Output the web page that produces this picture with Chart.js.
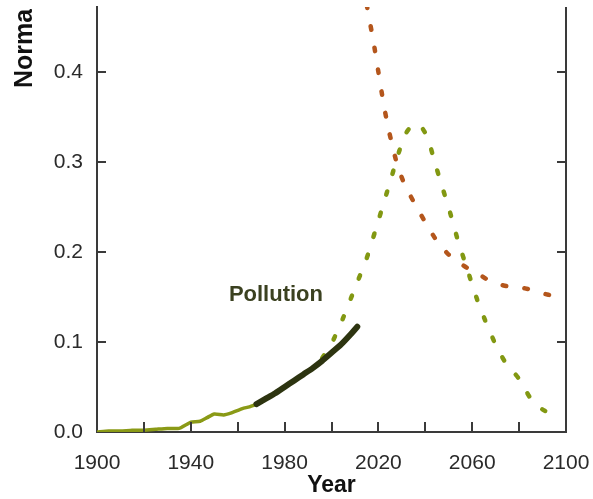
<!DOCTYPE html>
<html>
<head>
<meta charset="utf-8">
<script src="https://cdn.jsdelivr.net/npm/chart.js@4/dist/chart.umd.min.js"></script>
<style>
  html, body { margin: 0; padding: 0; background: #fff; }
  #wrap { width: 593px; height: 499px; position: relative; }
</style>
</head>
<body>
<div id="wrap"><canvas id="c" width="593" height="499"></canvas></div>
<script>
// Historical pollution, early period
const histYears = [1900, 1905, 1910, 1915, 1920, 1925, 1930, 1935, 1938, 1940, 1944, 1947, 1950, 1954, 1957, 1962, 1965, 1968];
const histVals  = [0.000, 0.001, 0.001, 0.002, 0.002, 0.003, 0.004, 0.004, 0.008, 0.011, 0.012, 0.016, 0.020, 0.019, 0.021, 0.026, 0.028, 0.031];

// Historical pollution, recent period (highlighted)
const recentYears = [1968, 1972, 1976, 1980, 1984, 1988, 1992, 1996, 2000, 2004, 2008, 2011];
const recentVals  = [0.031, 0.037, 0.043, 0.050, 0.057, 0.064, 0.071, 0.079, 0.088, 0.097, 0.108, 0.117];

// Projected pollution, rise and fall scenario
const projYears = [1996, 2000, 2005, 2010, 2015, 2020, 2025, 2029, 2032, 2035, 2038, 2041, 2044, 2047, 2050, 2054, 2058, 2062, 2066, 2070, 2074, 2080, 2085, 2090, 2095];
const projVals  = [0.082, 0.098, 0.127, 0.160, 0.193, 0.235, 0.278, 0.313, 0.333, 0.342, 0.340, 0.327, 0.300, 0.274, 0.249, 0.212, 0.180, 0.148, 0.121, 0.097, 0.078, 0.059, 0.037, 0.025, 0.019];

// Second projected series, declining
const declYears = [2015, 2018, 2020, 2022, 2024, 2026, 2028, 2031, 2035, 2040, 2045, 2050, 2054, 2058, 2062, 2066, 2070, 2075, 2080, 2085, 2090, 2095, 2100];
const declVals  = [0.475, 0.432, 0.400, 0.368, 0.340, 0.318, 0.297, 0.276, 0.256, 0.233, 0.212, 0.197, 0.189, 0.182, 0.177, 0.170, 0.165, 0.162, 0.161, 0.158, 0.154, 0.151, 0.148];

// Axis ticks
const xMinorTicks = [1900, 1920, 1940, 1960, 1980, 2000, 2020, 2040, 2060, 2080, 2100];
const xTickLabels = [1900, 1940, 1980, 2020, 2060, 2100];
const yTicks = [0.0, 0.1, 0.2, 0.3, 0.4];

const pts = (xs, ys) => xs.map((x, i) => ({ x: x, y: ys[i] }));

const AXIS_COLOR = '#3a3a3a';
const FONT = '"Liberation Sans", Arial, sans-serif';

// Keep the plot frame at a fixed size: no extra room for edge labels
function noScalePadding(scale) {
  scale.paddingTop = 0;
  scale.paddingBottom = 0;
  scale.paddingLeft = 0;
  scale.paddingRight = 0;
}

// Inward tick marks, right-hand frame line, rotated y title and series label
const framePlugin = {
  id: 'frame',
  afterDraw(chart) {
    const { ctx, chartArea: a, scales } = chart;
    const xs = scales.x, ys = scales.y;
    ctx.save();
    ctx.strokeStyle = AXIS_COLOR;
    ctx.lineWidth = 2;
    ctx.beginPath();
    ctx.moveTo(a.right, a.top);
    ctx.lineTo(a.right, a.bottom + 1);
    xMinorTicks.forEach(v => {
      if (v === xs.min || v === xs.max) return;
      const px = Math.round(xs.getPixelForValue(v));
      ctx.moveTo(px, a.bottom);
      ctx.lineTo(px, a.bottom - 10);
    });
    yTicks.forEach(v => {
      if (v === 0) return;
      const py = Math.round(ys.getPixelForValue(v));
      ctx.moveTo(a.left, py);
      ctx.lineTo(a.left + 9, py);
      ctx.moveTo(a.right, py);
      ctx.lineTo(a.right - 9, py);
    });
    ctx.stroke();

    // series label
    ctx.fillStyle = '#3b4120';
    ctx.font = 'bold 22px ' + FONT;
    ctx.textAlign = 'center';
    ctx.textBaseline = 'middle';
    ctx.fillText('Pollution', xs.getPixelForValue(1976.3), ys.getPixelForValue(0.152));

    // y-axis title, running up past the top edge
    ctx.beginPath();
    ctx.rect(0, 9, 60, 200);
    ctx.clip();
    ctx.translate(32, 88);
    ctx.rotate(-Math.PI / 2);
    ctx.fillStyle = '#111';
    ctx.font = 'bold 25px ' + FONT;
    ctx.textAlign = 'left';
    ctx.textBaseline = 'alphabetic';
    ctx.fillText('Normalized value', 0, 0);
    ctx.restore();
  }
};

new Chart(document.getElementById('c'), {
  type: 'line',
  data: {
    datasets: [
      { label: 'recent', data: pts(recentYears, recentVals), borderColor: '#2d3410', borderWidth: 6, borderCapStyle: 'round', order: 0 },
      { label: 'history', data: pts(histYears, histVals), borderColor: '#8a9a16', borderWidth: 3.5, order: 1 },
      { label: 'projection', data: pts(projYears, projVals), borderColor: '#829812', borderWidth: 4.5, borderDash: [3.5, 18.5], borderCapStyle: 'round', order: 2 },
      { label: 'decline', data: pts(declYears, declVals), borderColor: '#b4561c', borderWidth: 4.5, borderDash: [3.5, 18.5], borderCapStyle: 'round', order: 3 }
    ]
  },
  options: {
    responsive: false,
    animation: false,
    elements: { point: { radius: 0 }, line: { tension: 0.2, fill: false } },
    layout: { padding: { top: 7, right: 27, left: 0, bottom: 0 } },
    plugins: { legend: { display: false }, tooltip: { enabled: false }, title: { display: false } },
    scales: {
      x: {
        type: 'linear',
        min: 1900,
        max: 2100,
        afterBuildTicks(scale) { scale.ticks = xTickLabels.map(v => ({ value: v })); },
        afterFit(scale) { scale.height = 67; noScalePadding(scale); },
        grid: { display: false, drawTicks: false },
        border: { display: true, color: AXIS_COLOR, width: 2 },
        ticks: {
          padding: 19,
          color: '#2a2a2a',
          font: { family: FONT, size: 21 },
          maxRotation: 0,
          autoSkip: false,
          callback: v => String(v)
        },
        title: {
          display: true,
          text: 'Year',
          color: '#111',
          font: { family: FONT, size: 23, weight: 'bold' },
          padding: { top: 0, bottom: 0 }
        }
      },
      y: {
        type: 'linear',
        min: 0,
        max: 0.4 + 65 / 900,
        afterBuildTicks(scale) { scale.ticks = yTicks.map(v => ({ value: v })); },
        afterFit(scale) { scale.width = 97; noScalePadding(scale); },
        grid: { display: false, drawTicks: false },
        border: { display: true, color: AXIS_COLOR, width: 2 },
        ticks: {
          padding: 14,
          color: '#2a2a2a',
          font: { family: FONT, size: 21 },
          callback: v => v.toFixed(1)
        }
      }
    }
  },
  plugins: [framePlugin]
});
</script>
</body>
</html>
